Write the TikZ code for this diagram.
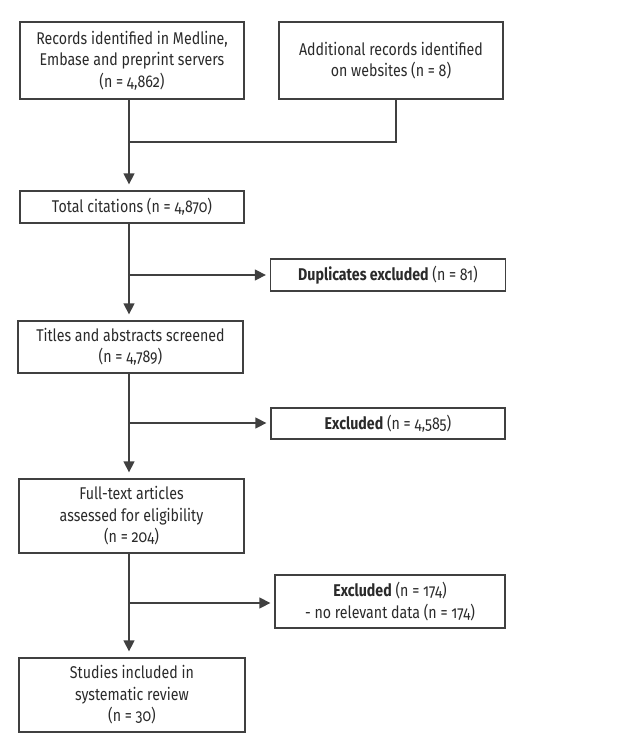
\documentclass[tikz,border=0pt]{standalone}
\usepackage{fontspec}
\setmainfont{Fira Sans}[Numbers=OldStyle,FakeStretch=0.835]
\usetikzlibrary{arrows.meta}
\definecolor{ln}{HTML}{404040}
\definecolor{tx}{HTML}{2A2A2A}
\begin{document}
\begin{tikzpicture}[x=1pt,y=-1pt,
  box/.style={draw=ln,line width=1.3pt,rectangle,align=center,inner sep=0pt,text=tx,font=\fontsize{17}{21.5}\selectfont},
  conn/.style={draw=ln,line width=1.4pt},
  arr/.style={conn,-{Triangle[length=11pt,width=11pt]}}]
\useasboundingbox (0,0) rectangle (632,751);
\node[box,minimum width=224pt,minimum height=77pt] (b1) at (132,60.5) {Records identified in Medline,\\Embase and preprint servers\\(n = 4,862)};
\node[box,minimum width=224pt,minimum height=77pt] (b2) at (391,60.5) {Additional records identified\\on websites (n = 8)};
\node[box,minimum width=224pt,minimum height=32pt] (tot) at (132,207) {Total citations (n = 4,870)};
\node[box,minimum width=235pt,minimum height=32pt] (dup) at (388,275) {\textbf{Duplicates excluded} (n = 81)};
\node[box,minimum width=225pt,minimum height=52pt] (tit) at (130.5,347) {Titles and abstracts screened\\(n = 4,789)};
\node[box,minimum width=234pt,minimum height=31pt] (ex1) at (388,423.5) {\textbf{Excluded} (n = 4,585)};
\node[box,minimum width=225pt,minimum height=74pt] (ful) at (131.5,516) {Full-text articles\\assessed for eligibility\\(n = 204)};
\node[box,minimum width=230pt,minimum height=53pt] (ex2) at (390,601.5) {\textbf{Excluded} (n = 174)\\- no relevant data (n = 174)};
\node[box,minimum width=226pt,minimum height=74pt] (stu) at (132,695) {Studies included in\\systematic review\\(n = 30)};
\coordinate (j0) at (129,142);
\coordinate (j1) at (129,275);
\coordinate (j2) at (129,423);
\coordinate (j3) at (129,603);
\path[conn] (b1.south -| j0) -- (j0);
\path[conn] (b2.south -| b2.south) ++(5,0) coordinate (b2s) -- (b2s |- j0) -- (j0);
\path[arr,shorten >=6pt] (j0) -- (tot.north -| j0);
\path[arr,shorten >=6pt] (tot.south -| j1) -- (tit.north -| j1);
\path[arr,shorten >=4pt] (j1) -- (dup.west |- j1);
\path[arr,shorten >=6pt] (tit.south -| j2) -- (ful.north -| j2);
\path[arr,shorten >=4pt] (j2) -- (ex1.west |- j2);
\path[arr,shorten >=6pt] (ful.south -| j3) -- (stu.north -| j3);
\path[arr,shorten >=4pt] (j3) -- (ex2.west |- j3);
\end{tikzpicture}
\end{document}
